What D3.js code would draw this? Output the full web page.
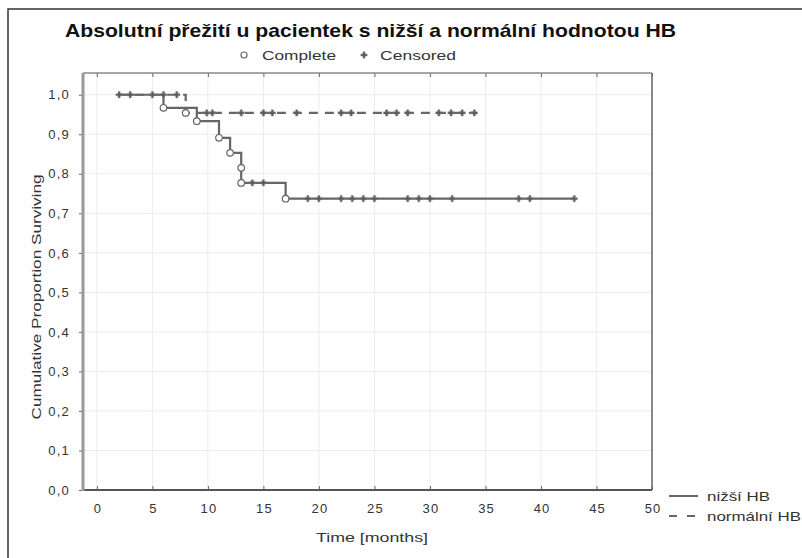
<!DOCTYPE html>
<html>
<head>
<meta charset="utf-8">
<script src="https://cdn.jsdelivr.net/npm/d3@7"></script>
<style>
html,body{margin:0;padding:0;background:#fff;}
svg{display:block;font-family:"Liberation Sans",Arial,sans-serif;}
</style>
</head>
<body>
<svg id="chart" width="802" height="558"></svg>
<script>
// ---- data ----
const titleText = "Absolutní přežití u pacientek s nižší a normální hodnotou HB";
const seriesNames = ["nižší HB", "normální HB"];
const xTicks = [0, 5, 10, 15, 20, 25, 30, 35, 40, 45, 50];
const yTicks = [0, 0.1, 0.2, 0.3, 0.4, 0.5, 0.6, 0.7, 0.8, 0.9, 1.0];

// nižší HB (solid)
const lowStart = 2, lowEnd = 43;
const lowEventTimes = [6, 9, 11, 12, 13, 13, 17];
const lowEventSurv  = [0.967, 0.933, 0.891, 0.853, 0.815, 0.777, 0.737];
const lowCensTimes  = [2, 5, 14, 15, 19, 20, 22, 23, 24, 25, 28, 29, 30, 32, 38, 39, 43];

// normální HB (dashed)
const normStart = 2, normEnd = 34;
const normEventTimes = [8];
const normEventSurv  = [0.954];
const normCensTimes  = [3, 6, 7.2, 9.9, 10.4, 13, 15, 15.8, 18, 22, 22.9, 26.1, 27, 28, 30.8, 31.9, 32.9, 34];

// ---- layout ----
const svg = d3.select("#chart");
const L = 83, R = 652, T = 73, B = 490;
const x = d3.scaleLinear().domain([-1.25, 50]).range([L, R]);
const y = d3.scaleLinear().domain([0, 1.055]).range([B, T]);
const lineCol = "#666";
const txtCol = "#333";
const fmt = d => d.toFixed(1).replace(".", ",");

// outer frame
svg.append("rect").attr("x", 8).attr("y", 9).attr("width", 820).attr("height", 570)
  .attr("fill", "none").attr("stroke", "#333").attr("stroke-width", 1.5);

// grid
svg.append("g").selectAll("line").data(xTicks).join("line")
  .attr("x1", d => x(d)).attr("x2", d => x(d)).attr("y1", T).attr("y2", B)
  .attr("stroke", "#ececec").attr("stroke-width", 1);
svg.append("g").selectAll("line").data(yTicks.slice(1)).join("line")
  .attr("x1", L).attr("x2", R).attr("y1", d => y(d)).attr("y2", d => y(d))
  .attr("stroke", "#ececec").attr("stroke-width", 1);

// axes
const gx = svg.append("g").attr("transform", `translate(0,${B})`)
  .call(d3.axisBottom(x).tickValues(xTicks).tickSize(-4).tickPadding(14).tickFormat(d3.format("d")));
const gy = svg.append("g").attr("transform", `translate(${L},0)`)
  .call(d3.axisLeft(y).tickValues(yTicks).tickSize(4).tickPadding(9).tickFormat(fmt));
const gt = svg.append("g").attr("transform", `translate(0,${T})`)
  .call(d3.axisTop(x).tickValues(xTicks).tickSize(-4).tickFormat(""));
[gx, gy, gt].forEach(g => {
  g.select(".domain").remove();
  g.selectAll(".tick line").attr("stroke", "#666").attr("stroke-width", 1);
  g.selectAll(".tick text").attr("fill", txtCol).style("font-size", "13px")
    .style("letter-spacing", "1.2px")
    .style("font-family", "'Liberation Sans',Arial,sans-serif");
});
gx.selectAll(".tick text").attr("dx", "0.6px");
// frame lines
svg.append("line").attr("x1", R).attr("x2", R).attr("y1", T).attr("y2", B)
  .attr("stroke", "#666").attr("stroke-width", 1.5);
svg.append("line").attr("x1", L).attr("x2", R).attr("y1", T).attr("y2", T)
  .attr("stroke", "#888").attr("stroke-width", 1.5);
svg.append("line").attr("x1", L).attr("x2", R).attr("y1", B).attr("y2", B)
  .attr("stroke", "#555").attr("stroke-width", 2);
svg.append("line").attr("x1", L).attr("x2", L).attr("y1", T).attr("y2", B + 1)
  .attr("stroke", "#999").attr("stroke-width", 3);

// ---- series ----
function buildSteps(start, end, evT, evS) {
  const pts = [[start, 1.0]];
  evT.forEach((t, i) => pts.push([t, evS[i]]));
  pts.push([end, evS[evS.length - 1]]);
  return pts;
}
function survAt(t, evT, evS) {
  let s = 1.0;
  evT.forEach((et, i) => { if (et <= t) s = evS[i]; });
  return s;
}
const series = [
  {name: seriesNames[0], dash: null, steps: buildSteps(lowStart, lowEnd, lowEventTimes, lowEventSurv),
   evT: lowEventTimes, evS: lowEventSurv, cens: lowCensTimes, legLen: 63},
  {name: seriesNames[1], dash: "9,7", steps: buildSteps(normStart, normEnd, normEventTimes, normEventSurv),
   evT: normEventTimes, evS: normEventSurv, cens: normCensTimes, legLen: 94}
];
const stepLine = d3.line().x(d => x(d[0])).y(d => y(d[1])).curve(d3.curveStepAfter);
const plusPath = d3.symbol().type(d3.symbolCross).size(22);

series.slice().reverse().forEach(s => {
  svg.append("path").datum(s.steps).attr("d", stepLine)
    .attr("fill", "none").attr("stroke", lineCol).attr("stroke-width", 2.2)
    .attr("stroke-dasharray", s.dash);
});
series.forEach(s => {
  svg.append("g").selectAll("path").data(s.cens).join("path")
    .attr("d", plusPath)
    .attr("transform", d => `translate(${x(d)},${y(survAt(d, s.evT, s.evS))})`)
    .attr("fill", "#5a5a5a").attr("stroke", "#888").attr("stroke-width", 0.5);
  svg.append("g").selectAll("circle").data(s.evT.map((t, i) => [t, s.evS[i]])).join("circle")
    .attr("cx", d => x(d[0])).attr("cy", d => y(d[1])).attr("r", 3.3)
    .attr("fill", "#fff").attr("stroke", "#666").attr("stroke-width", 1.2);
});

// ---- texts ----
svg.append("text").attr("x", 65).attr("y", 37)
  .attr("textLength", 611).attr("lengthAdjust", "spacingAndGlyphs")
  .style("font-size", "18.5px").style("font-weight", "bold").attr("fill", "#111").text(titleText);

// top legend
svg.append("circle").attr("cx", 244).attr("cy", 55).attr("r", 3)
  .attr("fill", "#fff").attr("stroke", "#666").attr("stroke-width", 1.2);
svg.append("text").attr("x", 262).attr("y", 60).attr("textLength", 74).attr("lengthAdjust", "spacingAndGlyphs")
  .style("font-size", "13.5px").attr("fill", txtCol).text("Complete");
svg.append("path").attr("d", plusPath).attr("transform", "translate(364,55)")
  .attr("fill", "#5a5a5a").attr("stroke", "#888").attr("stroke-width", 0.5);
svg.append("text").attr("x", 380).attr("y", 60).attr("textLength", 76).attr("lengthAdjust", "spacingAndGlyphs")
  .style("font-size", "13.5px").attr("fill", txtCol).text("Censored");

// axis titles
svg.append("text").attr("transform", "translate(41,297) rotate(-90)").attr("text-anchor", "middle")
  .attr("textLength", 245).attr("lengthAdjust", "spacingAndGlyphs")
  .style("font-size", "12.5px").attr("fill", txtCol).text("Cumulative Proportion Surviving");
svg.append("text").attr("x", 316).attr("y", 542)
  .attr("textLength", 112).attr("lengthAdjust", "spacingAndGlyphs")
  .style("font-size", "13px").attr("fill", txtCol).text("Time [months]");

// right legend
const lg = svg.append("g").selectAll("g").data(series).join("g")
  .attr("transform", (d, i) => `translate(669,${496 + i * 20})`);
lg.append("line").attr("x1", 0).attr("x2", 29).attr("y1", 0).attr("y2", 0)
  .attr("stroke", lineCol).attr("stroke-width", 2).attr("stroke-dasharray", d => d.dash ? "8,10" : null);
lg.append("text").attr("x", 38).attr("y", 5).attr("textLength", d => d.legLen).attr("lengthAdjust", "spacingAndGlyphs")
  .style("font-size", "13px").attr("fill", txtCol).text(d => d.name);
</script>
</body>
</html>
